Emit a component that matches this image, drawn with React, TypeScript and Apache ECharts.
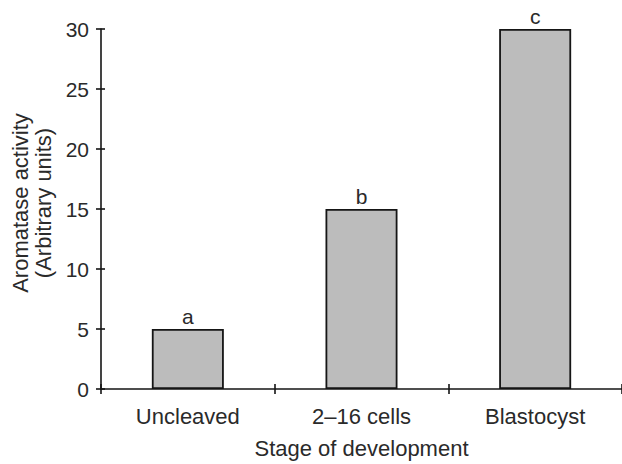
import React, { useEffect, useRef } from "react";
import * as echarts from "echarts";

const categories = ["Uncleaved", "2\u201316 cells", "Blastocyst"];
const values = [5, 15, 30];
const letters = ["a", "b", "c"];
const yTicks = { min: 0, max: 30, interval: 5 };

export default function App() {
  const ref = useRef<HTMLDivElement>(null);
  useEffect(() => {
    if (!ref.current) return;
    const chart = echarts.init(ref.current, null, { renderer: "svg" });
    const font = "'Liberation Sans', Arial, sans-serif";
    const textColor = "#2a2a2a";
    const axisColor = "#151515";
    chart.setOption({
      animation: false,
      backgroundColor: "#ffffff",
      textStyle: { fontFamily: font },
      grid: { left: 101, top: 29, bottom: 73.5, width: 525, containLabel: false },
      xAxis: [
        {
          type: "category",
          data: categories,
          boundaryGap: true,
          axisLine: { show: true, lineStyle: { color: axisColor, width: 1.6 } },
          axisTick: { show: true, length: 5, lineStyle: { color: axisColor, width: 1.6 } },
          axisLabel: { color: textColor, fontSize: 22, margin: 16, fontFamily: font },
          name: "Stage of development",
          nameLocation: "middle",
          nameGap: 48,
          nameTextStyle: { color: textColor, fontSize: 22, fontFamily: font },
        },
        {
          type: "category",
          data: categories,
          position: "bottom",
          boundaryGap: true,
          axisLine: { show: false },
          axisTick: { show: true, inside: true, length: 5, lineStyle: { color: axisColor, width: 1.6 } },
          axisLabel: { show: false },
        },
      ],
      yAxis: [
        {
          type: "value",
          min: yTicks.min,
          max: yTicks.max,
          interval: yTicks.interval,
          splitLine: { show: false },
          axisLine: { show: true, lineStyle: { color: axisColor, width: 1.6 } },
          axisTick: { show: true, length: 5, lineStyle: { color: axisColor, width: 1.6 } },
          axisLabel: { color: textColor, fontSize: 21, margin: 12, fontFamily: font },
          name: "Aromatase activity\n(Arbitrary units)",
          nameLocation: "middle",
          nameGap: 46,
          nameRotate: 90,
          nameTextStyle: {
            color: textColor,
            fontSize: 22,
            lineHeight: 23,
            fontFamily: font,
            padding: [0, 0, 0, 12],
          },
        },
        {
          type: "value",
          min: yTicks.min,
          max: yTicks.max,
          interval: yTicks.interval,
          position: "left",
          splitLine: { show: false },
          axisLine: { show: false },
          axisTick: { show: true, inside: true, length: 4, lineStyle: { color: axisColor, width: 1.6 } },
          axisLabel: { show: false },
        },
      ],
      series: [
        {
          type: "bar",
          data: values,
          barWidth: 72,
          itemStyle: { color: "#bcbcbc", borderColor: axisColor, borderWidth: 1.8 },
          label: {
            show: true,
            position: "top",
            distance: 2,
            color: textColor,
            fontSize: 21,
            fontFamily: font,
            formatter: (p: any) => letters[p.dataIndex],
          },
        },
      ],
    });
    return () => chart.dispose();
  }, []);
  return (
    <div
      ref={ref}
      style={{ position: "fixed", left: 0, top: 0, width: 622, height: 464 }}
    />
  );
}
